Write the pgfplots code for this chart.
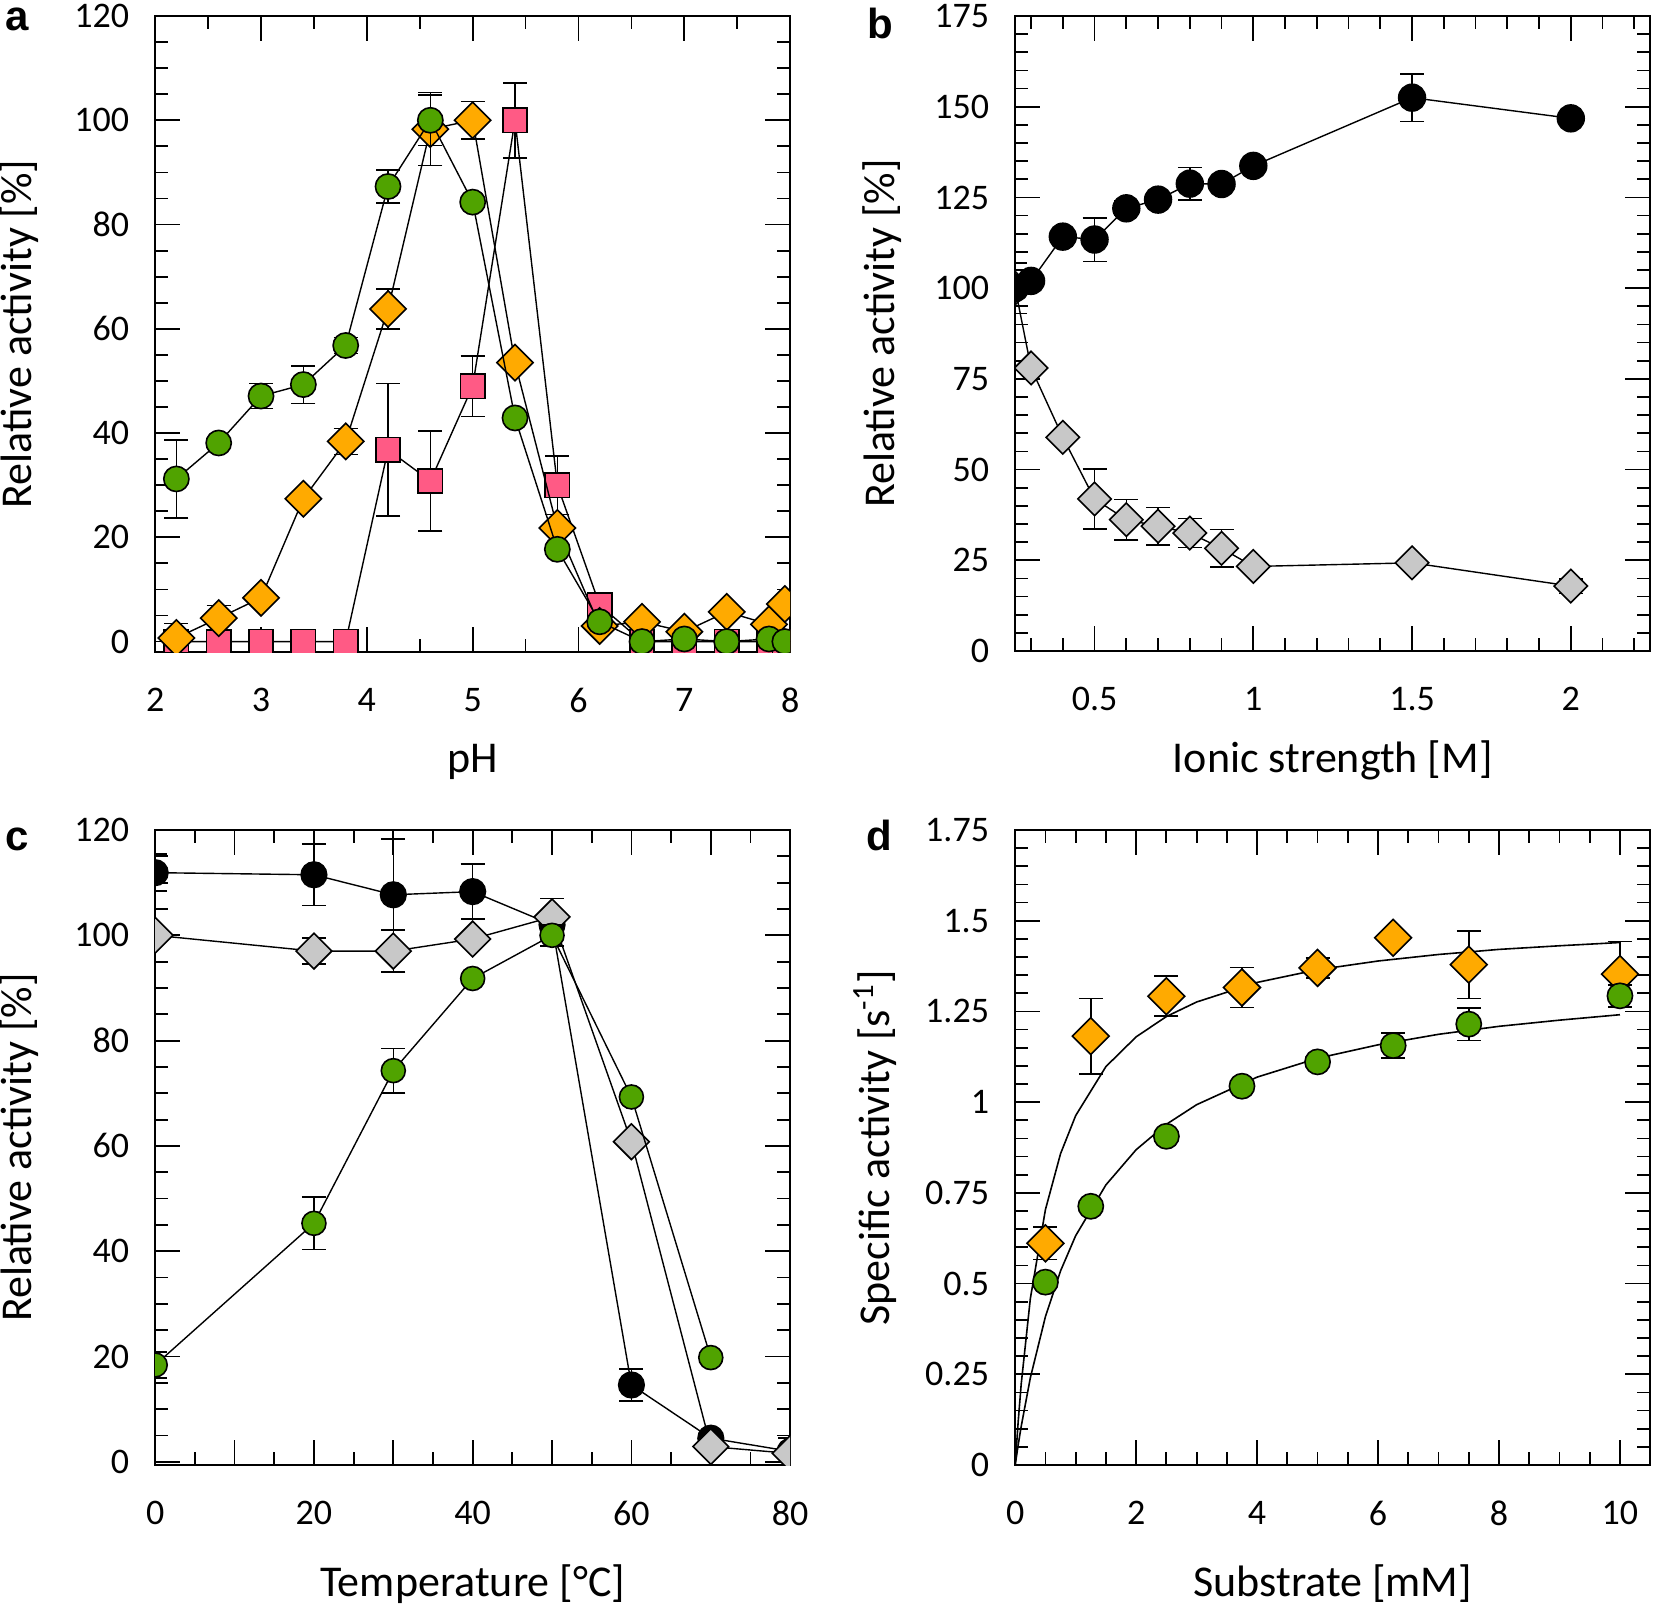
\documentclass[border=0pt]{standalone}
\usepackage{pgfplots}
\pgfplotsset{compat=1.18}
\usepackage{fontspec}
\setmainfont{Carlito}
\newfontfamily\letterfont{Liberation Sans}
\definecolor{greenc}{RGB}{80,163,0}
\definecolor{orangec}{RGB}{255,170,0}
\definecolor{pinkc}{RGB}{255,90,133}
\definecolor{grayc}{RGB}{200,200,200}
\pgfplotsset{
 panel/.style={
  scale only axis, anchor=south west,
  width=158.75pt, height=158.75pt,
  axis line style={line width=0.45pt},
  every tick/.style={line width=0.45pt, black},
  major tick length=6.3pt, minor tick length=3.25pt,
  tick align=inside, xtick pos=both, ytick pos=both,
  tick label style={font=\fontsize{9}{10}\selectfont},
  /pgf/number format/assume math mode=true,
  label style={font=\fontsize{11}{13}\selectfont},
  xticklabel shift=5.5pt, yticklabel shift=3pt,
  clip marker paths=true,
 },
 eb/.style={black, line width=0.35pt,
  error bars/y dir=both, error bars/y explicit,
  error bars/error bar style={line width=0.4pt, black, solid},
  error bars/error mark options={rotate=90, mark size=3pt, line width=0.4pt, black}},
 circ/.style 2 args={mark=*, mark size=#1, mark options={solid, fill=#2, draw=black, line width=0.4pt}},
 diam/.style 2 args={mark=square*, mark size=#1, mark options={solid, rotate=45, fill=#2, draw=black, line width=0.4pt}},
 sq/.style 2 args={mark=square*, mark size=#1, mark options={solid, fill=#2, draw=black, line width=0.4pt}},
}
\begin{document}
\begin{tikzpicture}
\useasboundingbox (0,0) rectangle (413.5pt,-402.25pt);
% ---------------- panel a
\begin{axis}[panel, at={(38.8pt,-163pt)}, height=159pt,
 xmin=2, xmax=8, ymin=-2, ymax=120,
 xtick={2,3,4,5,6,7,8}, minor x tick num=1,
 ytick={0,20,40,60,80,100,120}, minor y tick num=3,
 xlabel={pH}, ylabel={Relative activity [\%]},
 xlabel style={at={(axis description cs:0.5,-0.173)}, anchor=center},
 ylabel style={at={(axis description cs:-0.2147,0.5)}, anchor=center},
]
\addplot[eb, sq={3.05pt}{pinkc}] table[x=x,y=y,y error=e] {
x y e
2.2 0 0
2.6 0 0
3.0 0 0
3.4 0 0
3.8 0 0
4.2 36.8 12.7
4.6 30.8 9.6
5.0 49.0 5.8
5.4 100 7.2
5.8 30.0 5.6
6.2 7.0 0
6.6 0 0
7.0 0 0
7.4 0 0
7.8 0 0
7.95 0 0
};
\addplot[eb, diam={3.2pt}{orangec}] table[x=x,y=y,y error=e] {
x y e
2.2 0.7 2.8
2.6 4.5 2.4
3.0 8.4 0
3.4 27.4 0
3.8 38.4 2.5
4.2 63.8 3.8
4.6 98.3 7
5.0 100 3.6
5.4 53.5 0
5.8 21.8 0
6.2 3.0 0
6.6 3.8 0
7.0 1.9 0
7.4 5.7 0
7.8 3.3 0
7.95 7.2 0
};
\addplot[eb, circ={3.15pt}{greenc}] table[x=x,y=y,y error=e] {
x y e
2.2 31.2 7.5
2.6 38.1 0
3.0 47.1 2.4
3.4 49.3 3.6
3.8 56.8 1.5
4.2 87.3 3.2
4.6 100 4.8
5.0 84.3 0
5.4 42.9 0
5.8 17.7 0
6.2 3.8 0
6.6 0 0
7.0 0.5 0
7.4 0 0
7.8 0.5 0
7.95 0 0
};
\end{axis}
% ---------------- panel b
\begin{axis}[panel, at={(253.8pt,-162.75pt)},
 xmin=0.25, xmax=2.25, ymin=0, ymax=175,
 xtick={0.5,1,1.5,2},
 minor xtick={0.3,0.4,0.6,0.7,0.8,0.9,1.1,1.2,1.3,1.4,1.6,1.7,1.8,1.9,2.1,2.2},
 ytick={0,25,50,75,100,125,150,175}, minor y tick num=4,
 xlabel={Ionic strength [M]}, ylabel={Relative activity [\%]},
 xlabel style={at={(axis description cs:0.5,-0.173)}, anchor=center},
 ylabel style={at={(axis description cs:-0.21,0.5)}, anchor=center},
]
\addplot[eb, diam={2.95pt}{grayc}] table[x=x,y=y,y error=e] {
x y e
0.25 100 10
0.3 78 0
0.4 58.9 0
0.5 41.9 8.3
0.6 36.2 5.6
0.7 34.4 5.2
0.8 32.5 4
0.9 28.3 5.2
1.0 23.3 0
1.5 24.3 0
2.0 17.9 2
};
\addplot[eb, circ={3.35pt}{black}] table[x=x,y=y,y error=e] {
x y e
0.25 100 7
0.3 102 0
0.4 114.2 1.5
0.5 113.4 6
0.6 122 2
0.7 124.4 0
0.8 128.8 4.5
0.9 128.7 0
1.0 133.7 0
1.5 152.5 6.6
2.0 146.8 0
};
\end{axis}
% ---------------- panel c
\begin{axis}[panel, at={(38.8pt,-366.25pt)},
 xmin=0, xmax=80, ymin=-0.6, ymax=120,
 xtick={0,10,20,30,40,50,60,70,80}, xticklabels={0,,20,,40,,60,,80}, minor x tick num=1,
 ytick={0,20,40,60,80,100,120}, minor y tick num=3,
 xlabel={Temperature [°C]}, ylabel={Relative activity [\%]},
 xlabel style={at={(axis description cs:0.5,-0.187)}, anchor=center},
 ylabel style={at={(axis description cs:-0.2147,0.5)}, anchor=center},
]
\addplot[eb, circ={3.2pt}{black}] table[x=x,y=y,y error=e] {
x y e
0 111.9 3.5
20 111.5 5.8
30 107.7 10.6
40 108.3 5.2
50 102 0
60 14.6 3
70 4.5 0
80 2 2.5
};
\addplot[eb, diam={3.15pt}{grayc}] table[x=x,y=y,y error=e] {
x y e
0 100 0
20 97 2.5
30 97 4
40 99.3 0
50 103.5 3.5
60 60.8 0
70 2.9 0
80 1.6 0
};
\addplot[eb, circ={3.0pt}{greenc}] table[x=x,y=y,y error=e] {
x y e
0 18.4 2.5
20 45.3 5
30 74.3 4.2
40 91.8 0
50 100 2
60 69.3 0
70 19.8 0
};
\end{axis}
% ---------------- panel d
\begin{axis}[panel, at={(253.8pt,-366.25pt)},
 xmin=0, xmax=10.5, ymin=0, ymax=1.75,
 xtick={0,2,4,6,8,10}, minor x tick num=3,
 ytick={0,0.25,0.5,0.75,1,1.25,1.5,1.75}, minor y tick num=4,
 yticklabels={0,0.25,0.5,0.75,1,1.25,1.5,1.75},
 xlabel={Substrate [mM]}, ylabel={Specific activity [s\textsuperscript{-1}]},
 xlabel style={at={(axis description cs:0.5,-0.187)}, anchor=center},
 ylabel style={at={(axis description cs:-0.22,0.5)}, anchor=center},
]
\addplot[black, line width=0.4pt, no marks] coordinates {
(0,0) (0.05,0.121) (0.1,0.224) (0.25,0.458) (0.5,0.704) (0.75,0.858) (1,0.963)
(1.5,1.098) (2,1.180) (2.5,1.236) (3,1.276) (4,1.330) (5,1.365) (6,1.389)
(7,1.407) (8,1.421) (9,1.431) (10,1.440)};
\addplot[black, line width=0.4pt, no marks] coordinates {
(0,0) (0.05,0.056) (0.1,0.107) (0.25,0.240) (0.5,0.409) (0.75,0.535) (1,0.632)
(1.5,0.772) (2,0.869) (2.5,0.939) (3,0.993) (4,1.069) (5,1.121) (6,1.158)
(7,1.187) (8,1.209) (9,1.226) (10,1.241)};
\addplot[eb, only marks, diam={3.25pt}{orangec}] table[x=x,y=y,y error=e] {
x y e
0.5 0.611 0.045
1.25 1.182 0.104
2.5 1.292 0.055
3.75 1.316 0.055
5 1.370 0.028
6.25 1.453 0
7.5 1.379 0.093
10 1.353 0.09
};
\addplot[eb, only marks, circ={3.15pt}{greenc}] table[x=x,y=y,y error=e] {
x y e
0.5 0.504 0
1.25 0.713 0
2.5 0.906 0
3.75 1.044 0.015
5 1.111 0.01
6.25 1.156 0.035
7.5 1.215 0.045
10 1.293 0.03
};
\end{axis}
% ---------------- panel letters
\begin{scope}[every node/.style={inner sep=0pt, font=\letterfont\bfseries\fontsize{10.5}{12}\selectfont}]
\node[anchor=north] at (4.2pt,-1.7pt) {a};
\node[anchor=north] at (220pt,-1.7pt) {b};
\node[anchor=base] at (4.25pt,-212.5pt) {c};
\node[anchor=base] at (219.9pt,-212.5pt) {d};
\end{scope}
\end{tikzpicture}
\end{document}
